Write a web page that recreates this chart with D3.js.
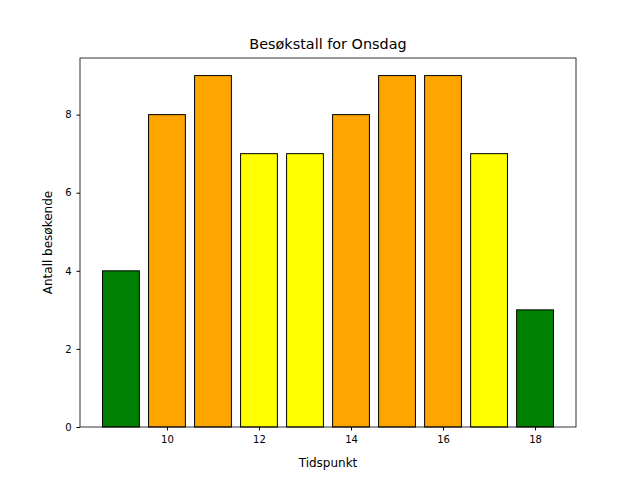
<!DOCTYPE html>
<html>
<head>
<meta charset="utf-8">
<script src="https://cdn.jsdelivr.net/npm/d3@7"></script>
<style>
  body { margin: 0; background: #fff; }
  text { font-family: "DejaVu Sans", sans-serif; }
</style>
</head>
<body>
<svg id="chart" width="640" height="480"></svg>
<script>
const hours = [9, 10, 11, 12, 13, 14, 15, 16, 17, 18];
const visitors = [4, 8, 9, 7, 7, 8, 9, 9, 7, 3];
const barColors = ['green', 'orange', 'orange', 'yellow', 'yellow', 'orange', 'orange', 'orange', 'yellow', 'green'];
const xTicks = [10, 12, 14, 16, 18];
const yTicks = [0, 2, 4, 6, 8];

const svg = d3.select('#chart');
const margin = { top: 58, right: 64, bottom: 53, left: 80 };
const width = 640 - margin.left - margin.right;
const height = 480 - margin.top - margin.bottom;

const barW = 0.8;
const pad = (18.4 - 8.6) * 0.05;
const x = d3.scaleLinear().domain([8.6 - pad, 18.4 + pad]).range([0, width]);
const y = d3.scaleLinear().domain([0, 9 * 1.05]).range([height, 0]);

const g = svg.append('g').attr('transform', `translate(${margin.left},${margin.top})`);

// Bars
g.selectAll('.bar')
  .data(hours)
  .enter().append('rect')
  .attr('class', 'bar')
  .attr('x', d => x(d - barW / 2))
  .attr('y', (d, i) => y(visitors[i]))
  .attr('width', x(barW) - x(0))
  .attr('height', (d, i) => height - y(visitors[i]))
  .attr('fill', (d, i) => barColors[i])
  .attr('stroke', 'black')
  .attr('stroke-width', 1);

// Axes
const xAxis = g.append('g')
  .attr('transform', `translate(0,${height})`)
  .call(d3.axisBottom(x).tickValues(xTicks).tickSize(3.5).tickPadding(5));
const yAxis = g.append('g')
  .call(d3.axisLeft(y).tickValues(yTicks).tickSize(3.5).tickPadding(5));
[xAxis, yAxis].forEach(a => {
  a.select('.domain').remove();
  a.selectAll('text').attr('font-size', 10).attr('fill', 'black');
  a.selectAll('line').attr('stroke', 'black');
});

// Frame
g.append('rect')
  .attr('width', width).attr('height', height)
  .attr('fill', 'none').attr('stroke', 'black').attr('stroke-width', 0.8);

// Labels
svg.append('text')
  .attr('x', margin.left + width / 2).attr('y', margin.top - 9)
  .attr('text-anchor', 'middle').attr('font-size', 14.4)
  .text('Besøkstall for Onsdag');
svg.append('text')
  .attr('x', margin.left + width / 2).attr('y', 467)
  .attr('text-anchor', 'middle').attr('font-size', 12)
  .text('Tidspunkt');
svg.append('text')
  .attr('transform', `translate(52,${margin.top + height / 2}) rotate(-90)`)
  .attr('text-anchor', 'middle').attr('font-size', 12)
  .text('Antall besøkende');
</script>
</body>
</html>
